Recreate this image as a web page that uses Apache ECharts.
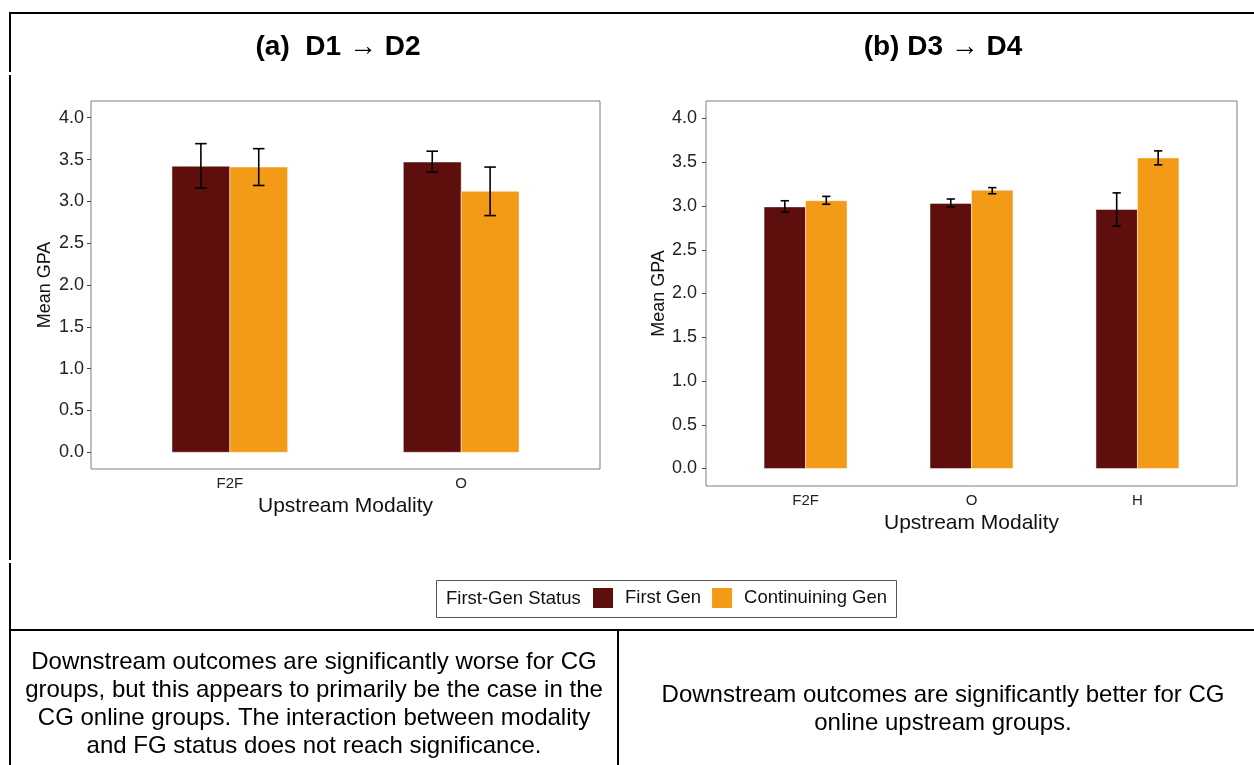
<!DOCTYPE html>
<html>
<head>
<meta charset="utf-8">
<script src="https://cdn.jsdelivr.net/npm/echarts@6/dist/echarts.min.js"></script>
<style>
  html, body { margin: 0; padding: 0; background: #fff; }
  #chart { width: 1254px; height: 765px; }
</style>
</head>
<body>
<div id="chart"></div>
<script>
const FONT = '"Liberation Sans", Arial, sans-serif';
const seriesNames = ['First Gen', 'Continuining Gen'];
const colors = ['#5e0f0d', '#f39a16'];

// (a) D1 -> D2
const catsA = ['F2F', 'O'];
const fgMeanA = [3.42, 3.47];
const fgLowA = [3.16, 3.35];
const fgHighA = [3.69, 3.60];
const cgMeanA = [3.41, 3.12];
const cgLowA = [3.19, 2.83];
const cgHighA = [3.63, 3.41];

// (b) D3 -> D4
const catsB = ['F2F', 'O', 'H'];
const fgMeanB = [2.99, 3.03, 2.96];
const fgLowB = [2.93, 2.99, 2.77];
const fgHighB = [3.06, 3.08, 3.15];
const cgMeanB = [3.06, 3.18, 3.55];
const cgLowB = [3.02, 3.14, 3.47];
const cgHighB = [3.11, 3.21, 3.63];

const yTicks = [0, 0.5, 1, 1.5, 2, 2.5, 3, 3.5, 4];

let myChart = echarts.init(document.getElementById('chart'));

// bars are drawn on a continuous x scale like ggplot: categories at 1..n, dodge 0.25 each side
function barItem(offset) {
  return function (params, api) {
    let x = api.value(0) + offset;
    let p0 = api.coord([x - 0.125, 0]);
    let p1 = api.coord([x + 0.125, api.value(1)]);
    return {
      type: 'rect',
      shape: { x: p0[0], y: p1[1], width: p1[0] - p0[0], height: p0[1] - p1[1] },
      style: api.style({ stroke: 'rgba(255,255,255,0.45)', lineWidth: 1 })
    };
  };
}

function errItem(offset) {
  return function (params, api) {
    let x = api.value(0) + offset;
    let lo = api.coord([x, api.value(1)]);
    let hi = api.coord([x, api.value(2)]);
    let capL = api.coord([x - 0.025, 0])[0];
    let capR = api.coord([x + 0.025, 0])[0];
    let st = { stroke: '#000', lineWidth: 1.6 };
    return {
      type: 'group',
      children: [
        { type: 'line', shape: { x1: lo[0], y1: lo[1], x2: hi[0], y2: hi[1] }, style: st },
        { type: 'line', shape: { x1: capL, y1: lo[1], x2: capR, y2: lo[1] }, style: st },
        { type: 'line', shape: { x1: capL, y1: hi[1], x2: capR, y2: hi[1] }, style: st }
      ]
    };
  };
}

function makeAxes(cats, idx) {
  return {
    x: {
      type: 'value', gridIndex: idx, min: 0.4, max: cats.length + 0.6,
      name: 'Upstream Modality', nameLocation: 'middle', nameGap: 27,
      nameTextStyle: { fontSize: 21, color: '#111', fontFamily: FONT },
      axisLine: { show: false }, axisTick: { show: false }, splitLine: { show: false },
      axisLabel: {
        customValues: cats.map((c, i) => i + 1),
        formatter: (v) => cats[Math.round(v) - 1],
        fontSize: 15, color: '#222', margin: 7, fontFamily: FONT
      }
    },
    y: {
      type: 'value', gridIndex: idx, min: -0.2, max: 4.2,
      name: 'Mean GPA', nameLocation: 'middle', nameRotate: 90, nameGap: idx === 0 ? 37 : 38,
      nameTextStyle: { fontSize: 18, color: '#111', fontFamily: FONT },
      axisLine: { show: false }, splitLine: { show: false },
      axisTick: { show: true, customValues: yTicks, length: 4, lineStyle: { color: '#444' } },
      axisLabel: {
        customValues: yTicks, formatter: (v) => v.toFixed(1),
        fontSize: 18, color: '#222', margin: idx === 0 ? 7 : 9, fontFamily: FONT
      }
    }
  };
}

function panelSeries(idx, fgMean, fgLow, fgHigh, cgMean, cgLow, cgHigh) {
  let base = { type: 'custom', xAxisIndex: idx, yAxisIndex: idx, silent: true };
  return [
    Object.assign({}, base, {
      name: seriesNames[0], itemStyle: { color: colors[0] },
      renderItem: barItem(-0.125), encode: { x: 0, y: 1 },
      data: fgMean.map((v, i) => [i + 1, v])
    }),
    Object.assign({}, base, {
      name: seriesNames[1], itemStyle: { color: colors[1] },
      renderItem: barItem(0.125), encode: { x: 0, y: 1 },
      data: cgMean.map((v, i) => [i + 1, v])
    }),
    Object.assign({}, base, {
      name: 'errFG' + idx, renderItem: errItem(-0.125), encode: { x: 0, y: [1, 2] },
      data: fgLow.map((v, i) => [i + 1, v, fgHigh[i]]), z: 5
    }),
    Object.assign({}, base, {
      name: 'errCG' + idx, renderItem: errItem(0.125), encode: { x: 0, y: [1, 2] },
      data: cgLow.map((v, i) => [i + 1, v, cgHigh[i]]), z: 5
    })
  ];
}

let axA = makeAxes(catsA, 0);
let axB = makeAxes(catsB, 1);

let lineStyle = { stroke: '#000', lineWidth: 2 };

myChart.setOption({
  animation: false,
  backgroundColor: '#fff',
  textStyle: { fontFamily: FONT },
  grid: [
    { left: 91, top: 101, width: 509, height: 368, show: true, borderColor: '#7f7f7f', borderWidth: 1, backgroundColor: '#fff' },
    { left: 706, top: 101, width: 531, height: 385, show: true, borderColor: '#7f7f7f', borderWidth: 1, backgroundColor: '#fff' }
  ],
  xAxis: [axA.x, axB.x],
  yAxis: [axA.y, axB.y],
  legend: {
    data: seriesNames, left: 593, top: 588, padding: 0, icon: 'rect',
    itemWidth: 20, itemHeight: 20, itemGap: 11, selectedMode: false,
    textStyle: { fontSize: 18.5, color: '#111', fontFamily: FONT, padding: [2, 0, 0, 7] }
  },
  series: [
    ...panelSeries(0, fgMeanA, fgLowA, fgHighA, cgMeanA, cgLowA, cgHighA),
    ...panelSeries(1, fgMeanB, fgLowB, fgHighB, cgMeanB, cgLowB, cgHighB)
  ],
  graphic: [
    // frame
    { type: 'line', shape: { x1: 10, y1: 13, x2: 1254, y2: 13 }, style: lineStyle },
    { type: 'line', shape: { x1: 10, y1: 12, x2: 10, y2: 72 }, style: lineStyle },
    { type: 'line', shape: { x1: 10, y1: 75, x2: 10, y2: 560 }, style: lineStyle },
    { type: 'line', shape: { x1: 10, y1: 563, x2: 10, y2: 765 }, style: lineStyle },
    { type: 'line', shape: { x1: 10, y1: 630, x2: 1254, y2: 630 }, style: lineStyle },
    { type: 'line', shape: { x1: 618, y1: 630, x2: 618, y2: 765 }, style: lineStyle },
    // panel titles
    { type: 'text', x: 338, y: 47, style: { text: '(a)  D1 \u2192 D2', textAlign: 'center', textVerticalAlign: 'middle', fontSize: 28, fontWeight: 'bold', fontFamily: FONT, fill: '#000' } },
    { type: 'text', x: 943, y: 47, style: { text: '(b) D3 \u2192 D4', textAlign: 'center', textVerticalAlign: 'middle', fontSize: 28, fontWeight: 'bold', fontFamily: FONT, fill: '#000' } },
    // legend box + title
    { type: 'rect', shape: { x: 436.5, y: 580.5, width: 460, height: 37 }, style: { fill: 'none', stroke: '#555', lineWidth: 1 }, z: -1 },
    { type: 'text', x: 446, y: 599, style: { text: 'First-Gen Status', textVerticalAlign: 'middle', fontSize: 18.5, fontFamily: FONT, fill: '#111' } },
    // notes
    { type: 'text', x: 314, y: 704, style: {
      text: 'Downstream outcomes are significantly worse for CG\ngroups, but this appears to primarily be the case in the\nCG online groups. The interaction between modality\nand FG status does not reach significance.',
      textAlign: 'center', textVerticalAlign: 'middle', fontSize: 24, lineHeight: 28, fontFamily: FONT, fill: '#000' } },
    { type: 'text', x: 943, y: 709, style: {
      text: 'Downstream outcomes are significantly better for CG\nonline upstream groups.',
      textAlign: 'center', textVerticalAlign: 'middle', fontSize: 24, lineHeight: 28, fontFamily: FONT, fill: '#000' } }
  ]
});
</script>
</body>
</html>
